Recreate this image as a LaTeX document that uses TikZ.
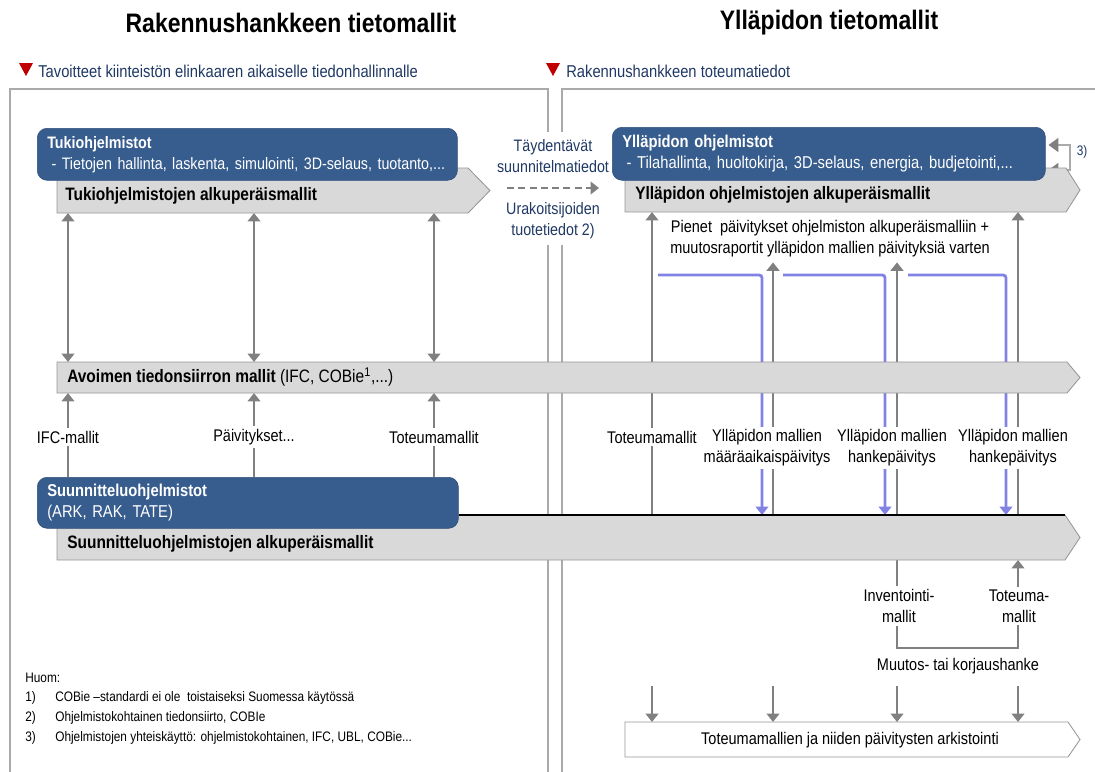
\documentclass[tikz,border=0pt]{standalone}
\usepackage{fontspec}
\setmainfont{Liberation Sans}[FakeStretch=0.86]
\usetikzlibrary{arrows.meta}

\definecolor{boxblue}{RGB}{55,93,142}
\definecolor{bandgray}{RGB}{217,217,217}
\definecolor{bandline}{RGB}{150,150,150}
\definecolor{arrowgray}{RGB}{128,128,128}
\definecolor{framegray}{RGB}{170,170,170}
\definecolor{linkblue}{RGB}{130,130,228}
\definecolor{textnavy}{RGB}{31,56,100}
\definecolor{markred}{RGB}{192,0,0}

\newcommand{\bodyfont}{\fontsize{12}{15}\selectfont}
\newcommand{\notefont}{\fontsize{9.8}{12}\selectfont}
\newcommand{\titlefont}{\fontsize{19}{23}\selectfont\bfseries}

\pgfdeclarelayer{lines}
\pgfsetlayers{lines,main}

\tikzset{
  heading/.style={font=\titlefont},
  goal/.style={anchor=west, text=textnavy, font=\fontsize{12.2}{14}\selectfont, inner sep=0pt},
  kehys/.style={draw=framegray, line width=1.4pt},
  band/.style={fill=bandgray, draw=bandline, line width=0.6pt},
  bandtext/.style={anchor=west, font=\fontsize{12.8}{15}\selectfont\bfseries, inner sep=0pt},
  softbox/.style={draw=boxblue!85!black, fill=boxblue, rounded corners=7pt, text=white,
    anchor=north west, align=left, inner xsep=0.25cm, inner ysep=0pt, font=\fontsize{12.2}{15}\selectfont},
  gline/.style={draw=arrowgray, line width=2pt},
  garrow/.style={gline, -{Triangle[length=6pt,width=9pt]}},
  gboth/.style={gline, {Triangle[length=6pt,width=9pt]}-{Triangle[length=6pt,width=9pt]}},
  barrow/.style={draw=linkblue, line width=2pt, rounded corners=2pt, -{Triangle[length=6pt,width=9pt]}},
  lab/.style={fill=white, font=\bodyfont, align=center, inner xsep=1pt, inner ysep=2pt},
  note/.style={anchor=west, font=\notefont, inner sep=0pt},
}

\begin{document}
\begin{tikzpicture}[x=0.025cm, y=-0.025cm]
\useasboundingbox (0,0) rectangle (1095,771);

% sarakkeet ja nauhojen reunat
\coordinate (L1) at (68,0);
\coordinate (L2) at (254,0);
\coordinate (L3) at (434,0);
\coordinate (R1) at (652,0);
\coordinate (R2) at (773,0);
\coordinate (R3) at (897,0);
\coordinate (R4) at (1018,0);
\coordinate (B1) at (762,0);
\coordinate (B2) at (885,0);
\coordinate (B3) at (1006,0);
\coordinate (tb-sw) at (57,213);
\coordinate (yb-sw) at (625,212);
\coordinate (av-nw) at (57,362);
\coordinate (av-sw) at (57,393);
\coordinate (su-nw) at (57,515);
\coordinate (su-sw) at (57,560);
\coordinate (ar-nw) at (625,722);

% otsikot
\node[heading] (h1) at (291,23) {Rakennushankkeen tietomallit};
\node[heading] (h2) at (829,23) {Ylläpidon tietomallit};
\fill[markred] (19,63) -- (33,63) -- (26,76) -- cycle;
\node[goal] (g1) at (38,71) {Tavoitteet kiinteistön elinkaaren aikaiselle tiedonhallinnalle};
\fill[markred] (546,63) -- (560,63) -- (553,76) -- cycle;
\node[goal] (g2) at (566,71) {Rakennushankkeen toteumatiedot};

% nauhat
\filldraw[band] (57,168) -- (468,168) -- (490,190.5) -- (468,213) -- (tb-sw) -- cycle;
\filldraw[band] (625,168) -- (1066,168) -- (1080,190) -- (1066,212) -- (yb-sw) -- cycle;
\filldraw[band] (av-nw) -- (1067,362) -- (1080,377.5) -- (1067,393) -- (av-sw) -- cycle;
\filldraw[band] (su-nw) -- (1065,515) -- (1080,537.5) -- (1065,560) -- (su-sw) -- cycle;
\filldraw[band, fill=white] (ar-nw) -- (1068,722) -- (1080,739.5) -- (1068,757) -- (625,757) -- cycle;

% ohjelmistolaatikot
\node[softbox, text width=10cm, minimum height=1.3cm, font=\fontsize{11.8}{15}\selectfont] (tuki) at (37,128)
  {\textbf{Tukiohjelmistot}\\\mbox{\hspace{3pt}- Tietojen hallinta, laskenta, simulointi, 3D-selaus, tuotanto,...}};
\node[softbox, text width=10.325cm, minimum height=1.325cm] (yoh) at (612,127)
  {\textbf{Ylläpidon ohjelmistot}\\\mbox{\hspace{3pt}- Tilahallinta, huoltokirja, 3D-selaus, energia, budjetointi,...}};
\node[softbox, text width=10.025cm, minimum height=1.275cm] (suun) at (37,477)
  {\textbf{Suunnitteluohjelmistot}\\(ARK, RAK, TATE)};
\draw[black, line width=0.9pt] (suun.east |- su-nw) -- (1065,515);

\node[bandtext] (tbt) at (65,196) {Tukiohjelmistojen alkuperäismallit};
\node[bandtext] (ybt) at (635,195) {Ylläpidon ohjelmistojen alkuperäismallit};
\node[bandtext] (avt) at (67,377) {Avoimen tiedonsiirron mallit \mdseries(IFC, COBie\textsuperscript{1},...)};
\node[bandtext] (sut) at (67,544) {Suunnitteluohjelmistojen alkuperäismallit};
\node[font=\bodyfont] (arkt) at (850,740) {Toteumamallien ja niiden päivitysten arkistointi};

% keskikohta
\node[text=textnavy, font=\fontsize{11.8}{15}\selectfont, align=center] (tay) at (553,156) {Täydentävät\\suunnitelmatiedot};
\node[text=textnavy, font=\fontsize{11.8}{15}\selectfont, align=center] (urak) at (553,221) {Urakoitsijoiden\\tuotetiedot 2)};
\coordinate (dash-a) at (507,188);
\coordinate (dash-b) at (599,188);
\node[font=\bodyfont, align=center] (pienet) at (830,239)
  {Pienet\ \ päivitykset ohjelmiston alkuperäismalliin +\\muutosraportit ylläpidon mallien päivityksiä varten};
\node[text=textnavy, font=\notefont] (k3) at (1082,152) {3)};
\coordinate (k3a) at (1070,145);
\coordinate (k3b) at (1070,170);

% nuolien tekstit
\node[lab] (lf1) at (68,437) {IFC-mallit};
\node[lab] (lf2) at (254,437) {Päivitykset...};
\node[lab] (lf3) at (434,437) {Toteumamallit};
\node[lab] (rf1) at (652,437) {Toteumamallit};
\node[lab] (rf2) at (767,448) {Ylläpidon mallien\\määräaikaispäivitys};
\node[lab] (rf3) at (892,448) {Ylläpidon mallien\\hankepäivitys};
\node[lab] (rf4) at (1013,448) {Ylläpidon mallien\\hankepäivitys};
\node[lab] (inv) at (899,606) {Inventointi-\\mallit};
\node[lab] (tot) at (1019,606) {Toteuma-\\mallit};
\node[font=\bodyfont] (muut) at (958,666) {Muutos- tai korjaushanke};
\coordinate (brk) at (0,648);
\coordinate (arr-from) at (0,686);

% huomautukset
\node[note] (huom) at (25,678) {Huom:};
\node[note] (n1) at (25,698) {1)};
\node[note] (n1t) at (55,698) {COBie –standardi ei ole\ \ toistaiseksi Suomessa käytössä};
\node[note] (n2) at (25,718) {2)};
\node[note] (n2t) at (55,718) {Ohjelmistokohtainen tiedonsiirto, COBIe};
\node[note] (n3) at (25,738) {3)};
\node[note] (n3t) at (55,738) {Ohjelmistojen yhteiskäyttö: ohjelmistokohtainen, IFC, UBL, COBie...};

\begin{pgfonlayer}{lines}
  % kehykset
  \draw[kehys] (548,132) -- (548,89) -- (10,89) -- (10,780);
  \draw[kehys] (548,245) -- (548,780);
  \draw[kehys] (562,132) -- (562,89) -- (1100,89);
  \draw[kehys] (562,245) -- (562,780);

  \foreach \c in {L1,L2,L3} {
    \draw[gboth] (\c |- tb-sw) -- (\c |- av-nw);
    \draw[garrow] (\c |- suun.north) -- (\c |- av-sw);
  }
  \draw[garrow] (R1 |- su-nw) -- (R1 |- yb-sw);
  \draw[garrow] (R4 |- su-nw) -- (R4 |- yb-sw);
  \draw[garrow] (R2 |- su-nw) -- (R2 |- pienet.south);
  \draw[garrow] (R3 |- su-nw) -- (R3 |- pienet.south);
  \draw[barrow] (658,275) coordinate (bs1) -| (B1 |- su-nw);
  \draw[barrow] (783,275) coordinate (bs2) -| (B2 |- su-nw);
  \draw[barrow] (908,275) coordinate (bs3) -| (B3 |- su-nw);

  \draw[gline, dash pattern=on 5pt off 3pt, -{Triangle[length=6pt,width=9pt]}] (dash-a) -- (dash-b);
  \draw[draw=framegray, line width=0.8pt, shorten <=2pt, shorten >=2pt,
    {Triangle[length=7pt,width=10pt,color=arrowgray]}-{Triangle[length=7pt,width=10pt,color=arrowgray]}]
    (yoh.east |- k3a) -- (k3a) -- (k3b) -- (yoh.east |- k3b);

  \draw[garrow] (R3 |- su-sw) -- (R3 |- brk) -- (R4 |- brk) -- (R4 |- su-sw);
  \foreach \c in {R1,R2,R3,R4}
    \draw[garrow, line width=1.5pt] (\c |- arr-from) -- (\c |- ar-nw);
\end{pgfonlayer}
\end{tikzpicture}
\end{document}
